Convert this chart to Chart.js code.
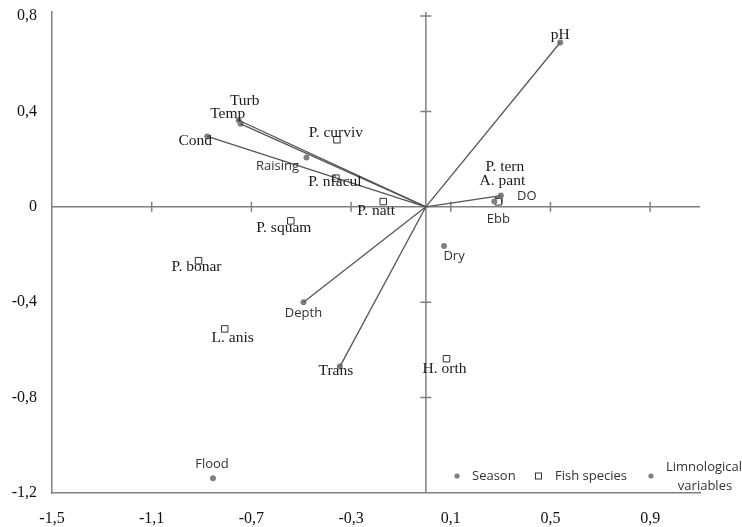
<!DOCTYPE html>
<html>
<head>
<meta charset="utf-8">
<script src="https://cdn.jsdelivr.net/npm/chart.js@4/dist/chart.umd.min.js"></script>
<style>
  html, body { margin: 0; padding: 0; background: #fff; }
  #wrap { width: 742px; height: 527px; }
</style>
</head>
<body>
<div id="wrap"><canvas id="myChart" width="742" height="527"></canvas></div>
<script>
// axis ticks
var xTicks = [-1.5, -1.1, -0.7, -0.3, 0.1, 0.5, 0.9];
var yTicks = [-1.2, -0.8, -0.4, 0, 0.4, 0.8];

// limnological variables (vectors from origin)
var limnoNames = ['pH', 'Turb', 'Temp', 'Cond', 'Depth', 'Trans', 'DO'];
var limnoX = [0.539, -0.751, -0.743, -0.877, -0.491, -0.345, 0.301];
var limnoY = [0.689, 0.363, 0.348, 0.295, -0.400, -0.670, 0.047];

// seasons
var seasonNames = ['Raising', 'Ebb', 'Dry', 'Flood'];
var seasonX = [-0.479, 0.275, 0.073, -0.854];
var seasonY = [0.207, 0.022, -0.164, -1.138];

// fish species
var fishNames = ['P. curviv', 'P. nfacul', 'P. natt', 'P. squam', 'P. bonar', 'L. anis', 'H. orth', 'P. tern', 'A. pant'];
var fishX = [-0.357, -0.361, -0.171, -0.542, -0.912, -0.807, 0.083, 0.293, 0.291];
var fishY = [0.281, 0.120, 0.022, -0.059, -0.226, -0.512, -0.637, 0.027, 0.021];

// label placement relative to its point (pixels) - style only
var labelOffsets = {
    'pH': [0, -8], 'Turb': [6, -19], 'Temp': [-13, -10], 'Cond': [-12, 4],
    'Depth': [0, 11], 'Trans': [-4, 4], 'DO': [26, 1],
    'Raising': [-29, 9], 'Ebb': [4, 18], 'Dry': [10, 10], 'Flood': [-1, -14],
    'P. curviv': [-1, -7], 'P. nfacul': [-1, 4], 'P. natt': [-7, 9], 'P. squam': [-7, 7],
    'P. bonar': [-2, 6], 'L. anis': [8, 9], 'H. orth': [-2, 10], 'P. tern': [6, -33], 'A. pant': [4, -21]
};
var sansLabels = ['Depth', 'DO', 'Raising', 'Ebb', 'Dry', 'Flood'];

var SERIF = '"Liberation Serif", "Times New Roman", serif';
var SANS = '"Open Sans", "Liberation Sans", sans-serif';

function toPts(xs, ys) {
    return xs.map(function (v, i) { return {x: v, y: ys[i]}; });
}

function fmt(v) {
    if (Math.abs(v) < 1e-9) return '0';
    return v.toFixed(1).replace('.', ',');
}

// vector lines
var datasets = limnoNames.map(function (name, i) {
    return {
        label: name,
        data: [{x: 0, y: 0}, {x: limnoX[i], y: limnoY[i]}],
        showLine: true,
        borderColor: '#555',
        borderWidth: 1.3,
        pointRadius: 0,
        pointHoverRadius: 0
    };
});

datasets.push({
    label: 'Limnological variables',
    data: toPts(limnoX, limnoY),
    names: limnoNames,
    pointRadius: 3,
    backgroundColor: '#808080',
    borderColor: '#808080',
    borderWidth: 0
});
datasets.push({
    label: 'Season',
    data: toPts(seasonX, seasonY),
    names: seasonNames,
    pointRadius: 3,
    backgroundColor: '#808080',
    borderColor: '#808080',
    borderWidth: 0
});
datasets.push({
    label: 'Fish species',
    data: toPts(fishX, fishY),
    names: fishNames,
    pointStyle: 'rect',
    pointRadius: 4.6,
    backgroundColor: '#fff',
    borderColor: '#333',
    borderWidth: 1
});

// axes crossing at the origin
var crossAxes = {
    id: 'crossAxes',
    beforeDatasetsDraw: function (chart) {
        var ctx = chart.ctx;
        var xs = chart.scales.x, ys = chart.scales.y;
        var ox = xs.getPixelForValue(0), oy = ys.getPixelForValue(0);
        var area = chart.chartArea;
        ctx.save();
        ctx.strokeStyle = '#808080';
        ctx.lineWidth = 1.5;
        ctx.beginPath();
        ctx.moveTo(area.left, oy); ctx.lineTo(area.right, oy);
        ctx.moveTo(ox, area.top); ctx.lineTo(ox, area.bottom);
        xTicks.forEach(function (v) {
            if (v === xTicks[0]) return;
            var px = xs.getPixelForValue(v);
            ctx.moveTo(px, oy - 5); ctx.lineTo(px, oy + 5);
        });
        yTicks.forEach(function (v) {
            if (v === 0 || v === yTicks[0]) return;
            var py = ys.getPixelForValue(v);
            ctx.moveTo(ox - 5.5, py); ctx.lineTo(ox + 5.5, py);
        });
        ctx.stroke();
        ctx.restore();
    }
};

// point labels and legend
var pointLabels = {
    id: 'pointLabels',
    afterDatasetsDraw: function (chart) {
        var ctx = chart.ctx;
        ctx.save();
        ctx.textAlign = 'center';
        ctx.textBaseline = 'middle';
        chart.data.datasets.forEach(function (ds, di) {
            if (!ds.names) return;
            var meta = chart.getDatasetMeta(di);
            meta.data.forEach(function (el, i) {
                var name = ds.names[i];
                var off = labelOffsets[name] || [0, 0];
                if (sansLabels.indexOf(name) >= 0) {
                    ctx.font = '13px ' + SANS;
                    ctx.fillStyle = '#333';
                } else {
                    ctx.font = '15.5px ' + SERIF;
                    ctx.fillStyle = '#1a1a1a';
                }
                ctx.fillText(name, el.x + off[0], el.y + off[1]);
            });
        });

        // legend
        ctx.font = '13px ' + SANS;
        ctx.textAlign = 'left';
        ctx.fillStyle = '#808080';
        ctx.beginPath(); ctx.arc(457, 476, 2.6, 0, Math.PI * 2); ctx.fill();
        ctx.beginPath(); ctx.arc(651, 476, 2.6, 0, Math.PI * 2); ctx.fill();
        ctx.fillStyle = '#fff';
        ctx.strokeStyle = '#333';
        ctx.lineWidth = 1;
        ctx.fillRect(535.5, 473, 6, 6);
        ctx.strokeRect(535.5, 473, 6, 6);
        ctx.fillStyle = '#333';
        ctx.fillText('Season', 472, 476);
        ctx.fillText('Fish species', 555, 476);
        ctx.textAlign = 'center';
        ctx.fillText('Limnological', 704, 467);
        ctx.fillText('variables', 705, 486);
        ctx.restore();
    }
};

var ctx = document.getElementById('myChart').getContext('2d');
var chart = new Chart(ctx, {
    type: 'scatter',
    data: {datasets: datasets},
    options: {
        responsive: false,
        animation: false,
        events: [],
        layout: {padding: {top: 12, right: 42, left: 0, bottom: 0}},
        plugins: {
            legend: {display: false},
            tooltip: {enabled: false}
        },
        scales: {
            x: {
                type: 'linear',
                min: -1.5,
                max: 1.1,
                afterBuildTicks: function (scale) {
                    scale.ticks = xTicks.map(function (v) { return {value: v}; });
                },
                afterFit: function (scale) { scale.height = 34; },
                grid: {display: false, drawTicks: false},
                border: {display: true, color: '#808080', width: 1.5},
                ticks: {
                    padding: 16,
                    color: '#111',
                    font: {family: SERIF, size: 16},
                    maxRotation: 0,
                    callback: function (v) { return fmt(v); }
                }
            },
            y: {
                type: 'linear',
                min: -1.2,
                max: 0.8168,
                afterBuildTicks: function (scale) {
                    scale.ticks = yTicks.map(function (v) { return {value: v}; });
                },
                afterFit: function (scale) {
                    scale.width = 52;
                    scale.paddingTop = 0;
                    scale.paddingBottom = 0;
                },
                grid: {display: false, drawTicks: false},
                border: {display: true, color: '#808080', width: 1.5},
                ticks: {
                    padding: 15,
                    color: '#111',
                    font: {family: SERIF, size: 16},
                    callback: function (v) { return fmt(v); }
                }
            }
        }
    },
    plugins: [crossAxes, pointLabels]
});
</script>
</body>
</html>
